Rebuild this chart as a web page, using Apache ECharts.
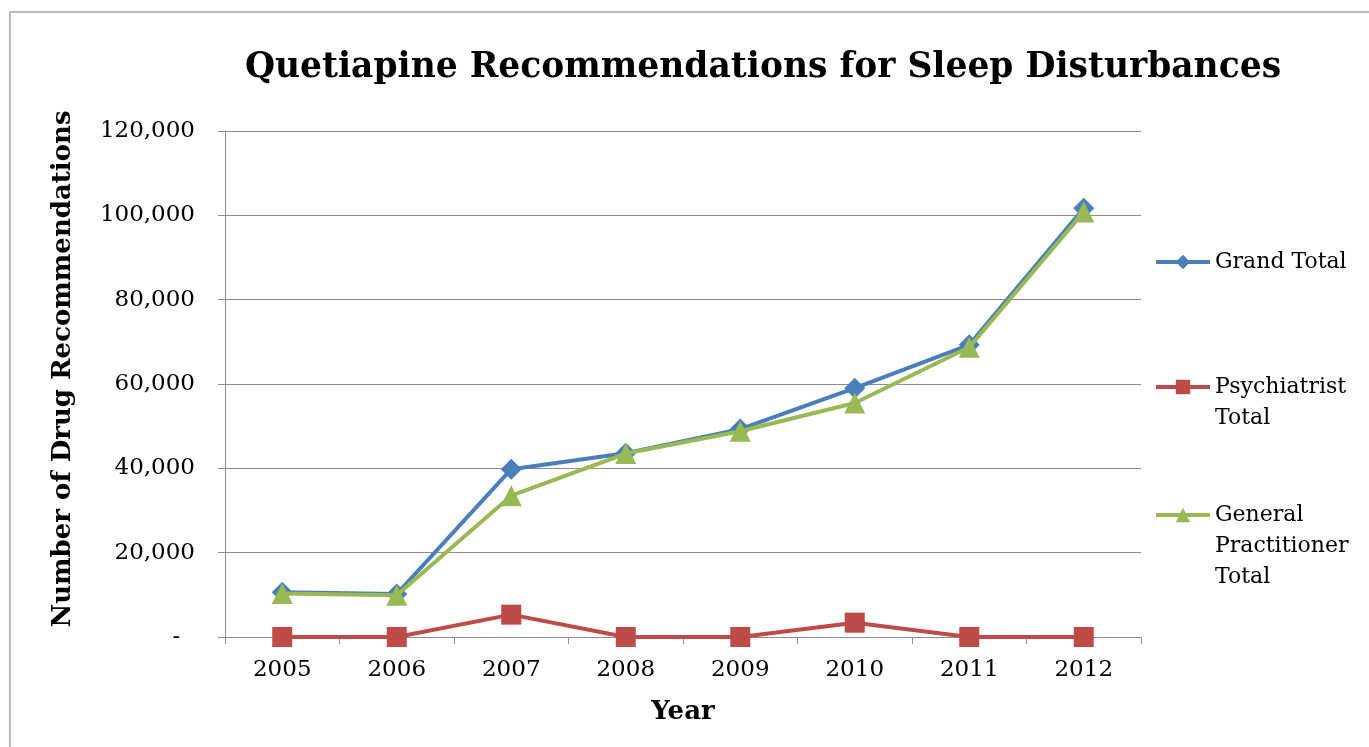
<!DOCTYPE html>
<html>
<head>
<meta charset="utf-8">
<script src="https://cdn.jsdelivr.net/npm/echarts@6/dist/echarts.min.js"></script>
<style>
  html, body { margin: 0; padding: 0; background: #ffffff; }
  #chart { width: 1369px; height: 747px; }
</style>
</head>
<body>
<div id="chart"></div>
<script>
const years = ['2005', '2006', '2007', '2008', '2009', '2010', '2011', '2012'];
const grandTotal = [10600, 10200, 39800, 43600, 49300, 59000, 69300, 101700];
const psychiatristTotal = [0, 0, 5300, 0, 0, 3400, 0, 0];
const gpTotal = [10300, 9900, 33500, 43500, 48800, 55500, 68700, 100800];
const yTicks = { min: 0, max: 120000, interval: 20000 };

const FONT = '"DejaVu Serif", "Liberation Serif", serif';
const GRAY = '#8c8c8c';

const chart = echarts.init(document.getElementById('chart'));

function legendFor(name, label, top) {
  return {
    show: true,
    left: 1154,
    top: top,
    orient: 'vertical',
    padding: 0,
    itemWidth: 54,
    itemHeight: 18,
    data: [name],
    formatter: function () { return label; },
    lineStyle: { width: 4 },
    textStyle: { fontFamily: FONT, fontSize: 22, color: '#000', lineHeight: 31 },
    selectedMode: false
  };
}

chart.setOption({
  animation: false,
  backgroundColor: '#ffffff',
  title: {
    text: 'Quetiapine Recommendations for Sleep Disturbances',
    left: 758,
    top: 46,
    textAlign: 'center',
    textStyle: { fontFamily: FONT, fontSize: 34.5, fontWeight: 'bold', color: '#000' }
  },
  graphic: [{
    type: 'rect',
    shape: { x: 10, y: 12, width: 1400, height: 800 },
    style: { fill: 'none', stroke: '#a6a6a6', lineWidth: 1.5 },
    silent: true,
    z: -1
  }],
  legend: [
    legendFor('Grand Total', 'Grand Total', 246.5),
    legendFor('Psychiatrist Total', '\nPsychiatrist\nTotal', 340.5),
    legendFor('General Practitioner Total', '\n\nGeneral\nPractitioner\nTotal', 437.5)
  ],
  grid: { left: 225, right: 228, top: 131, bottom: 110, containLabel: false },
  xAxis: {
    type: 'category',
    data: years,
    boundaryGap: true,
    name: 'Year',
    nameLocation: 'middle',
    nameGap: 62,
    nameTextStyle: { fontFamily: FONT, fontSize: 26, fontWeight: 'bold', color: '#000' },
    axisLine: { show: true, lineStyle: { color: GRAY, width: 1 } },
    axisTick: { show: true, alignWithLabel: false, length: 7, lineStyle: { color: GRAY } },
    axisLabel: { fontFamily: FONT, fontSize: 23, color: '#000', margin: 22 },
    splitLine: { show: false }
  },
  yAxis: {
    type: 'value',
    min: yTicks.min,
    max: yTicks.max,
    interval: yTicks.interval,
    name: 'Number of Drug Recommendations',
    nameLocation: 'middle',
    nameGap: 149,
    nameTextStyle: { fontFamily: FONT, fontSize: 26, fontWeight: 'bold', color: '#000', padding: [0, 0, 0, 30] },
    axisLine: { show: true, lineStyle: { color: GRAY, width: 1 } },
    axisTick: { show: true, length: 7, lineStyle: { color: GRAY } },
    axisLabel: {
      fontFamily: FONT, fontSize: 23, color: '#000', margin: 30,
      formatter: function (v) { return v === 0 ? '-  ' : v.toLocaleString('en-US'); }
    },
    splitLine: { show: true, lineStyle: { color: GRAY, width: 1 } }
  },
  series: [
    {
      name: 'Grand Total', type: 'line', data: grandTotal,
      symbol: 'diamond', symbolSize: 21,
      lineStyle: { color: '#4A7EBB', width: 4 },
      itemStyle: { color: '#4A7EBB' }, z: 2
    },
    {
      name: 'Psychiatrist Total', type: 'line', data: psychiatristTotal,
      symbol: 'rect', symbolSize: 20,
      lineStyle: { color: '#BE4B48', width: 4 },
      itemStyle: { color: '#BE4B48' }, z: 3
    },
    {
      name: 'General Practitioner Total', type: 'line', data: gpTotal,
      symbol: 'triangle', symbolSize: 21,
      lineStyle: { color: '#98B954', width: 4 },
      itemStyle: { color: '#98B954' }, z: 4
    }
  ]
});
</script>
</body>
</html>
